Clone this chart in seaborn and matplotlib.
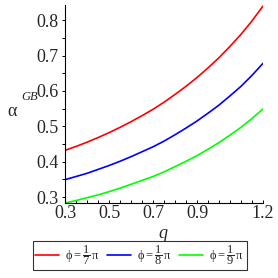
import numpy as np
import pandas as pd
import matplotlib
matplotlib.use("Agg")
import matplotlib.pyplot as plt
import seaborn as sns

# values
q = [0.3, 0.35, 0.4, 0.45, 0.5, 0.55, 0.6, 0.65, 0.7, 0.75,
     0.8, 0.85, 0.9, 0.95, 1.0, 1.05, 1.1, 1.15, 1.2]
alpha_7 = [0.432, 0.443, 0.455, 0.468, 0.482, 0.497, 0.513, 0.530, 0.548, 0.568,
           0.590, 0.613, 0.638, 0.665, 0.694, 0.726, 0.760, 0.798, 0.840]
alpha_8 = [0.349, 0.358, 0.367, 0.378, 0.389, 0.401, 0.414, 0.428, 0.442, 0.458,
           0.476, 0.495, 0.515, 0.537, 0.560, 0.586, 0.613, 0.644, 0.678]
alpha_9 = [0.283, 0.290, 0.298, 0.306, 0.315, 0.325, 0.336, 0.347, 0.358, 0.371,
           0.386, 0.401, 0.417, 0.435, 0.454, 0.475, 0.497, 0.522, 0.549]
labels = [r'$\mathrm{\phi} = \dfrac{1}{7}\,\mathrm{\pi}$',
          r'$\mathrm{\phi} = \dfrac{1}{8}\,\mathrm{\pi}$',
          r'$\mathrm{\phi} = \dfrac{1}{9}\,\mathrm{\pi}$']
colors = ['#ff0000', '#0000ff', '#00ff00']
xtick_labels = [0.3, 0.5, 0.7, 0.9, 1.2]

df = pd.DataFrame({
    'q': q * 3,
    'alpha': alpha_7 + alpha_8 + alpha_9,
    'phi': [labels[0]] * len(q) + [labels[1]] * len(q) + [labels[2]] * len(q),
})

sns.set_style('ticks')
plt.rcParams['font.family'] = ['Liberation Serif', 'DejaVu Serif']
plt.rcParams['mathtext.fontset'] = 'custom'
plt.rcParams['mathtext.rm'] = 'Liberation Serif'
plt.rcParams['mathtext.it'] = 'Liberation Serif:italic'
plt.rcParams['mathtext.fallback'] = 'stix'

fig = plt.figure(figsize=(2.78, 2.78), dpi=100)
ax = fig.add_axes([0.234, 0.271, 0.712, 0.711])
sns.lineplot(data=df, x='q', y='alpha', hue='phi', palette=colors, lw=1.2, ax=ax)

ax.set_xlim(0.3, 1.2)
ax.set_ylim(0.284, 0.843)
ax.set_xticks(np.arange(0.3, 1.201, 0.05), minor=True)
ax.set_xticks(xtick_labels)
ax.set_xticklabels(['0.3', '0.5', '0.7', '0.9', '1.2'])
ax.set_yticks([0.3, 0.4, 0.5, 0.6, 0.7, 0.8])
ax.set_yticks(np.arange(0.3, 0.84, 0.05), minor=True)
ax.set_yticklabels(['0.3', '0.4', '0.5', '0.6', '0.7', '0.8'])
ax.tick_params(axis='both', which='both', labelsize=13, length=2.5, width=0.7, pad=2, color='black')
ax.tick_params(axis='x', which='both', direction='in')
ax.tick_params(axis='y', which='both', direction='out')
for s in ['top', 'right']:
    ax.spines[s].set_visible(False)
for s in ['left', 'bottom']:
    ax.spines[s].set_linewidth(0.8)
    ax.spines[s].set_color('black')

ax.set_xlabel('')
ax.set_ylabel('')
fig.text(163 / 278, 1 - 234 / 278, 'q', fontsize=13, style='italic', ha='center', va='center')
fig.text(12 / 278, 1 - 111 / 278, 'α', fontsize=13, ha='center', va='center')
fig.text(30 / 278, 1 - 97 / 278, 'GB', fontsize=9, style='italic', ha='center', va='center')

leg = ax.legend(loc='center', bbox_to_anchor=(0.502, 0.081), bbox_transform=fig.transFigure,
                ncol=3, frameon=True, fancybox=False, fontsize=9, handlelength=1.9,
                handletextpad=0.5, columnspacing=0.6, borderpad=0.2, borderaxespad=0)
leg.get_frame().set_edgecolor('black')
leg.get_frame().set_linewidth(0.8)

fig.savefig('out.png', dpi=100)
